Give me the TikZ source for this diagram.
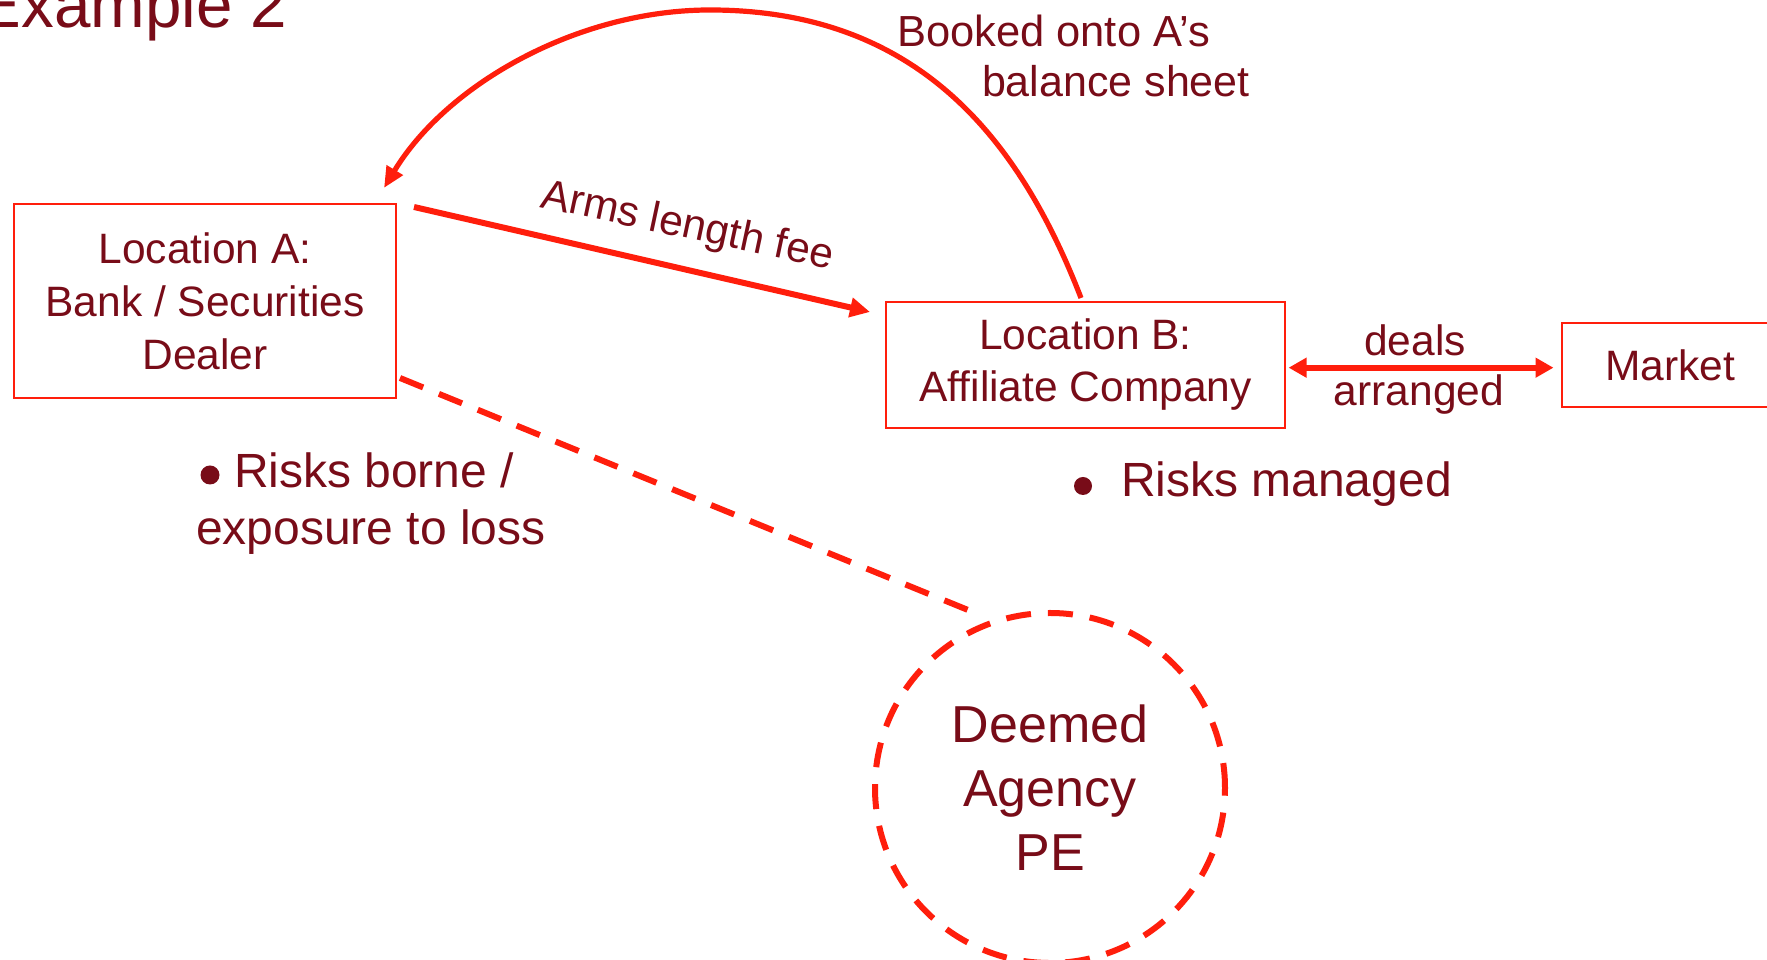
\documentclass[tikz,border=0pt]{standalone}
\usepackage{fontspec}
\setmainfont{Liberation Sans}
\usetikzlibrary{arrows.meta}
\definecolor{txt}{RGB}{120,12,24}
\definecolor{lin}{RGB}{255,30,12}
\begin{document}
\begin{tikzpicture}[x=1pt,y=1pt,
  every node/.style={text=txt, inner sep=0pt, outer sep=0pt},
  boxnode/.style={draw=lin, line width=1.8pt, align=center, font=\fontsize{42.5}{53}\selectfont},
  lbl/.style={font=\fontsize{42.5}{50}\selectfont},
  risk/.style={font=\fontsize{48}{57}\selectfont, anchor=base west},
  bulletdot/.style={circle, fill=txt, minimum size=19pt},
  flow/.style={draw=lin, line width=6pt, -{Triangle[length=20pt,width=19pt]}},
  curvearrow/.style={draw=lin, line width=5.2pt, -{Triangle[length=21pt,width=18pt]}},
  dbl/.style={draw=lin, line width=5.8pt, {Triangle[length=18pt,width=19pt]}-{Triangle[length=18pt,width=19pt]}},
  dashline/.style={draw=lin, line width=6pt, dash pattern=on 25pt off 17pt}
]
\useasboundingbox (0,0) rectangle (1767,960);
\clip (0,0) rectangle (1767,960);
\node[anchor=base west, font=\fontsize{65.5}{70}\selectfont] (title) at (-22,932) {Example 2};
\node[boxnode, minimum width=382pt, minimum height=194pt] (A) at (205,659) {Location A:\\Bank / Securities\\Dealer};
\node[boxnode, font=\fontsize{42.5}{52}\selectfont, minimum width=399pt, minimum height=126pt] (B) at (1085.5,595) {Location B:\\Affiliate Company};
\node[boxnode, minimum width=216pt, minimum height=84pt] (M) at (1670,595) {Market};
\node[circle, draw=lin, line width=6pt, dash pattern=on 25pt off 17pt, minimum size=350pt, align=center, font=\fontsize{52}{64}\selectfont] (pe) at (1050,172) {Deemed\\Agency\\PE};
% arms length fee
\coordinate (fs) at ([xshift=18pt,yshift=-3pt]A.north east);
\coordinate (fe) at ([xshift=-16pt,yshift=-10pt]B.north west);
\draw[flow] (fs) -- (fe);
\node[lbl, anchor=base, rotate=-12] (fee) at (685,722) {Arms length fee};
% booked onto A's balance sheet
\coordinate (cs) at ([xshift=-4.5pt,yshift=4pt]B.north);
\coordinate (ce) at ([xshift=-12pt,yshift=16pt]A.north east);
\draw[curvearrow] (cs) .. controls (1018,825) and (915,950) .. (710,950) .. controls (578,950) and (447,876) .. (ce);
\node[lbl, font=\fontsize{43.5}{50}\selectfont, anchor=base west] (bk1) at (897,913) {Booked onto A’s};
\node[lbl, font=\fontsize{43}{50}\selectfont, anchor=base west] (bk2) at (982,863) {balance sheet};
% deals arranged
\coordinate (ds) at ([xshift=3.6pt,yshift=-2.7pt]B.east);
\coordinate (de) at ([xshift=-8.5pt,yshift=-2.7pt]M.west);
\draw[dbl] (ds) -- (de);
\node[lbl, anchor=base] (deals) at (1415,604) {deals};
\node[lbl, anchor=base] (arr) at (1419,554) {arranged};
% dashed link to PE
\coordinate (ls) at ([xshift=4pt,yshift=20pt]A.south east);
\coordinate (le) at (968,350);
\draw[dashline] (ls) -- (le);
% risks
\node[bulletdot] (b1) at (210,485) {};
\node[risk] (r1a) at (234,472) {Risks borne /};
\node[risk] (r1b) at (196,415) {exposure to loss};
\node[bulletdot, minimum size=18pt] (b2) at (1083,474) {};
\node[risk] (r2) at (1121,463) {Risks managed};
\end{tikzpicture}
\end{document}
